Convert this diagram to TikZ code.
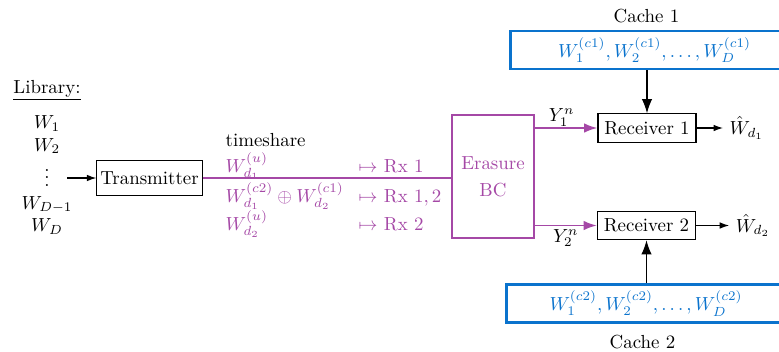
\documentclass[tikz,border=0pt]{standalone}
\usepackage{amsmath}
\usetikzlibrary{positioning,arrows.meta}

\definecolor{chanpurple}{RGB}{165,72,166}
\definecolor{cacheblue}{RGB}{10,115,205}

\begin{document}
\begin{tikzpicture}[x=0.529pt, y=-0.529pt,
    block/.style={draw, semithick, minimum height=15pt},
    chanbox/.style={draw=chanpurple, line width=1pt, text=chanpurple},
    chanline/.style={draw=chanpurple, line width=1pt},
    chantext/.style={text=chanpurple},
    cachebox/.style={draw=cacheblue, line width=1.5pt, text=cacheblue, minimum height=17.5pt},
    inarrow/.style={semithick, -{Latex[length=7.5pt,width=5.5pt]}},
    outarrow/.style={semithick, -{Latex[length=5pt,width=3.5pt]}}]

    \useasboundingbox (0,0) rectangle (779,351);

    \node[anchor=base] (lib) at (47,93) {\underline{Library:}};
    \node (files) at (47,175.5) {$\begin{array}{c} W_1 \\ W_2 \\ \vdots \\ W_{D-1} \\ W_D \end{array}$};
    \coordinate (libout) at (67,178);

    \node[block, inner xsep=1.8pt, minimum height=18.5pt] (tx) at (149.5,178) {Transmitter};
    \node[chanbox, minimum width=43pt, minimum height=65.5pt, align=center] (bc) at (493,176.5) {Erasure\\[2.3pt]BC};

    \node[anchor=base west] (ts) at (219,146) {timeshare};
    \node[chantext, anchor=base west] (m1) at (219,172) {$W_{d_1}^{(u)}$};
    \node[chantext, anchor=base west] (m12) at (219,202) {$W_{d_1}^{(c2)} \oplus W_{d_2}^{(c1)}$};
    \node[chantext, anchor=base west] (m2) at (219,230) {$W_{d_2}^{(u)}$};
    \node[chantext, anchor=base west] (r1) at (352,172) {$\mapsto$ Rx 1};
    \node[chantext, anchor=base west] (r12) at (352,202) {$\mapsto$ Rx $1, 2$};
    \node[chantext, anchor=base west] (r2) at (352,230) {$\mapsto$ Rx 2};

    \node[block] (rx1) at (647,128) {Receiver 1};
    \node[block] (rx2) at (646.5,225.5) {Receiver 2};
    \node[right=14pt of rx1] (out1) {$\hat{W}_{d_1}$};
    \node[right=17.5pt of rx2] (out2) {$\hat{W}_{d_2}$};

    \node[cachebox, minimum width=152pt] (c1) at (654.5,50) {$W_1^{(c1)}, W_2^{(c1)}, \ldots, W_D^{(c1)}$};
    \node[cachebox, minimum width=148pt, minimum height=18pt] (c2) at (646,303.5) {$W_1^{(c2)}, W_2^{(c2)}, \ldots, W_D^{(c2)}$};
    \node (c1lab) at (646.5,16) {Cache 1};
    \node (c2lab) at (642.5,342) {Cache 2};

    \draw[outarrow] (libout) -- (tx.west);
    \draw[chanline] (tx.east) -- (tx.east -| bc.west);
    \draw[chanline, -{Latex[length=7pt,width=5pt]}] (rx1.west -| bc.east) -- node[above, inner sep=0.5pt, pos=0.43, text=black] {$Y_1^n$} (rx1.west);
    \draw[chanline, -{Latex[length=7pt,width=5pt]}] (rx2.west -| bc.east) -- node[below, inner sep=1.5pt, pos=0.5, text=black] {$Y_2^n$} (rx2.west);
    \draw[outarrow] (rx1.east) -- (out1.west);
    \draw[outarrow] (rx2.east) -- (out2.west);
    \draw[inarrow] (rx1.north |- c1.south) -- (rx1.north);
    \draw[inarrow] (rx2.south |- c2.north) -- (rx2.south);

\end{tikzpicture}
\end{document}
